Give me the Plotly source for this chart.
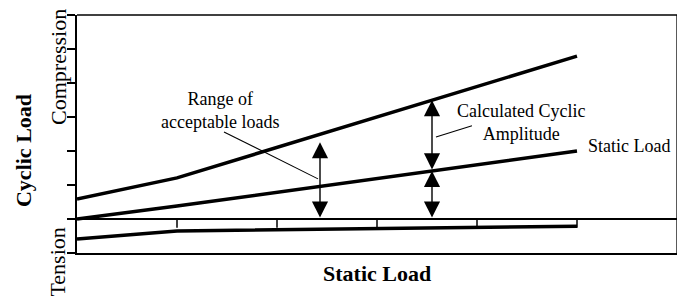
import numpy as np
import plotly.graph_objects as go

# ---- data (x: static load units, y: cyclic load units) ----
line_x = [0.0, 1.0, 5.0]
upper_y = [0.59, 1.21, 4.79]      # upper cyclic bound
static_y = [0.0, 0.38, 2.0]       # static load
tension_y = [-0.59, -0.35, -0.21] # lower (tension) line

zero_tick_x = [1, 2, 3, 4, 5]     # small ticks hanging from the zero line
zero_tick_depth = -0.26

y_tickvals = [-1, 0, 1, 2, 3, 4, 5, 6]

range_arrow_x = 2.43
range_arrow_top = 2.26
amp_arrow_x = 3.55

range_leader_x = [1.47, 2.41]
range_leader_y = [2.56, 1.18]
amp_leader_x = [3.59, 3.95]
amp_leader_y = [2.41, 2.74]

SERIF = "Liberation Serif"

fig = go.Figure()

for ys in (upper_y, static_y, tension_y):
    fig.add_trace(go.Scatter(x=line_x, y=ys, mode="lines",
                             line=dict(color="black", width=3.5),
                             hoverinfo="skip"))

# ticks on zero line
tx, ty = [], []
for v in zero_tick_x:
    tx += [v, v, None]
    ty += [0, zero_tick_depth, None]
fig.add_trace(go.Scatter(x=tx, y=ty, mode="lines",
                         line=dict(color="black", width=1.5), hoverinfo="skip"))

# leader lines
for lx, ly in ((range_leader_x, range_leader_y), (amp_leader_x, amp_leader_y)):
    fig.add_trace(go.Scatter(x=lx, y=ly, mode="lines",
                             line=dict(color="black", width=1.1), hoverinfo="skip"))

# double-headed arrows
amp_top = float(np.interp(amp_arrow_x, line_x, upper_y))
amp_mid = float(np.interp(amp_arrow_x, line_x, static_y))
arrows = [(range_arrow_x, 0.0, range_arrow_top),
          (amp_arrow_x, amp_mid, amp_top),
          (amp_arrow_x, 0.0, amp_mid)]
for ax_, y0, y1 in arrows:
    fig.add_annotation(x=ax_, y=y1, ax=ax_, ay=y0, xref="x", yref="y",
                       axref="x", ayref="y", text="", showarrow=True,
                       arrowhead=2, startarrowhead=2, arrowside="end+start",
                       arrowsize=2.3, startarrowsize=2.3, arrowwidth=1.4,
                       arrowcolor="black", standoff=0, startstandoff=0)

label_font = dict(family=SERIF, size=18, color="black")
fig.add_annotation(x=1.43, y=3.19, xref="x", yref="y", showarrow=False,
                   text="Range of<br>acceptable loads", font=label_font,
                   xanchor="center", yanchor="middle")
fig.add_annotation(x=4.44, y=2.84, xref="x", yref="y", showarrow=False,
                   text="Calculated Cyclic<br>Amplitude", font=label_font,
                   xanchor="center", yanchor="middle")
fig.add_annotation(x=5.09, y=2.15, xref="x", yref="y", showarrow=False,
                   text="Static Load", font=label_font,
                   xanchor="left", yanchor="middle")

# axis side labels
side_font = dict(family=SERIF, size=22, color="black")
fig.add_annotation(x=-0.0317, y=0.7815, xref="paper", yref="paper",
                   showarrow=False, text="Compression", textangle=-90,
                   font=side_font, xanchor="center", yanchor="middle")
fig.add_annotation(x=-0.0317, y=-0.036, xref="paper", yref="paper",
                   showarrow=False, text="Tension", textangle=-90,
                   font=side_font, xanchor="center", yanchor="middle")
title_font = dict(family=SERIF, size=22, color="black")
fig.add_annotation(x=-0.0883, y=0.4286, xref="paper", yref="paper",
                   showarrow=False, text="<b>Cyclic Load</b>", textangle=-90,
                   font=title_font, xanchor="center", yanchor="middle")
fig.add_annotation(x=0.5, y=-0.087, xref="paper", yref="paper",
                   showarrow=False, text="<b>Static Load</b>",
                   font=title_font, xanchor="center", yanchor="middle")

# top and right borders
fig.add_shape(type="line", xref="paper", yref="paper", x0=0, x1=1, y0=1, y1=1,
              line=dict(color="black", width=1.3))
fig.add_shape(type="line", xref="paper", yref="paper", x0=1, x1=1, y0=0, y1=1,
              line=dict(color="black", width=1.3))

# the page body adds an 8px margin at top/left, so the figure is 8px smaller
fig.update_layout(
    width=677, height=292,
    margin=dict(l=69, r=8, t=7, b=47),
    paper_bgcolor="white", plot_bgcolor="white",
    showlegend=False,
    xaxis=dict(range=[0, 6], showgrid=False, zeroline=False,
               showticklabels=False, ticks="", showline=True,
               linecolor="black", linewidth=1.5, fixedrange=True),
    yaxis=dict(range=[-1, 6], showgrid=False, zeroline=True,
               zerolinecolor="black", zerolinewidth=1.5,
               tickvals=y_tickvals, showticklabels=False, ticks="outside",
               ticklen=8, tickwidth=1.5, tickcolor="black",
               showline=True, linecolor="black", linewidth=2,
               fixedrange=True),
)

fig.write_html("out.html")
